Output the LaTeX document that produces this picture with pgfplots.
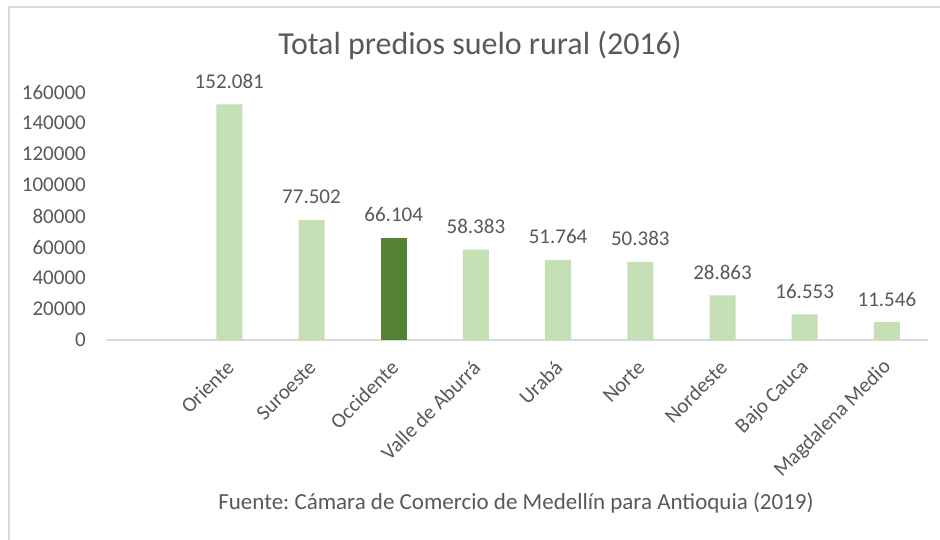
\documentclass[border=0pt]{standalone}
\usepackage{pgfplots}
\pgfplotsset{compat=1.18}
\usepackage{fontspec}
\setmainfont{Carlito}
\definecolor{lg}{HTML}{C5E0B4}
\definecolor{dg}{HTML}{548235}
\definecolor{txt}{HTML}{595959}
\definecolor{axc}{HTML}{D9D9D9}
\frenchspacing
\begin{document}
\begin{tikzpicture}[x=1pt,y=1pt]
\useasboundingbox (0,0) rectangle (940,540);
\fill[white] (0,0) rectangle (940,540);
\draw[axc, line width=1.5pt] (9,0) -- (9,533) -- (940,533);
\node[anchor=base, text=txt, font=\fontsize{32}{38}\selectfont] at (480,485) {Total predios suelo rural (2016)};
\node[anchor=base, text=txt, font=\fontsize{23}{27}\selectfont] at (516,30) {Fuente: Cámara de Comercio de Medellín para Antioquia (2019)};
\begin{axis}[
  at={(106pt,200pt)}, anchor=south west,
  scale only axis, width=822pt, height=248pt,
  xmin=-0.5, xmax=9.5, ymin=0, ymax=160000,
  ytick={0,20000,40000,60000,80000,100000,120000,140000,160000},
  yticklabels={0,20000,40000,60000,80000,100000,120000,140000,160000},
  xtick={0,...,9},
  xticklabels={,Oriente,Suroeste,Occidente,Valle de Aburrá,Urabá,Norte,Nordeste,Bajo Cauca,Magdalena Medio},
  scaled y ticks=false,
  axis x line*=bottom, axis y line*=left,
  x axis line style={draw=axc, line width=1.5pt},
  y axis line style={draw=none},
  major tick length=0pt,
  tick label style={text=txt, font=\fontsize{21}{25}\selectfont},
  yticklabel style={anchor=east, inner sep=0pt, xshift=-20pt},
  xticklabel style={xshift=1pt, yshift=-24pt, rotate=45, anchor=east, inner sep=0pt},
  clip=false,
  ybar, bar width=26pt, bar shift=0pt,
  point meta=explicit symbolic,
  nodes near coords,
  nodes near coords style={text=txt, font=\fontsize{21}{25}\selectfont, anchor=base, inner sep=0pt, yshift=16pt},
]
\addplot[fill=lg, draw=none] coordinates {(1,152081) [152.081] (2,77502) [77.502] (4,58383) [58.383] (5,51764) [51.764] (6,50383) [50.383] (7,28863) [28.863] (8,16553) [16.553] (9,11546) [11.546]};
\addplot[fill=dg, draw=none] coordinates {(3,66104) [66.104]};
\end{axis}
\end{tikzpicture}
\end{document}
